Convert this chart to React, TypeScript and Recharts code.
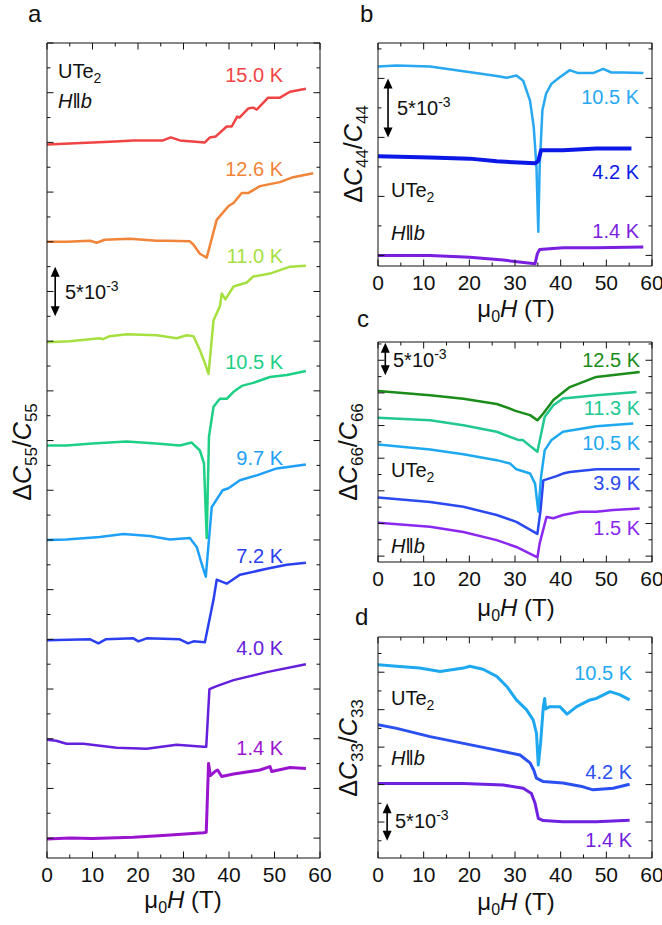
import React from 'react';
import { LineChart, Line, XAxis, YAxis, ReferenceLine } from 'recharts';

const FONT = '"Liberation Sans", Arial, Helvetica, sans-serif';

// field values (T) and relative change in units of 1e-3, curves offset for clarity
// panel a: dC55/C55
const a150 = [[0, 69.8], [5, 69.9], [10, 70.0], [15, 70.1], [19, 70.2], [25.5, 70.2], [27.2, 70.5], [29.2, 70.2], [34.7, 70.0], [35.8, 70.5], [37.1, 70.6], [39.5, 71.6], [40.6, 71.6], [41.8, 72.6], [42.3, 72.5], [44.2, 73.4], [45.3, 73.5], [46.1, 73.3], [48.6, 74.5], [51.2, 74.5], [53.4, 75.1], [56.9, 75.4]];
const a126 = [[0, 60], [4.3, 60], [9.5, 60.1], [10.9, 59.9], [12.7, 60.2], [18.2, 60.3], [21.2, 60.2], [24.1, 60.1], [26.3, 60.1], [31.4, 60.05], [32.2, 59.7], [33.6, 58.8], [35.1, 58.4], [37.3, 62.2], [39.9, 63.6], [41, 63.9], [42.8, 64.9], [44.2, 64.9], [46.8, 65.6], [51.2, 66], [54.1, 66.5], [58.5, 66.9]];
const a110 = [[0, 49.9], [5, 50], [11.6, 50.3], [12.3, 50.2], [13.8, 50.5], [17.5, 50.7], [24.1, 50.6], [28.5, 50.3], [30.7, 50.6], [32.2, 50.5], [33.6, 49.1], [34.7, 47.8], [35.5, 46.7], [36.6, 52.1], [38, 53.5], [38.4, 54.8], [39.2, 54.2], [41, 55.5], [43.9, 55.9], [45.3, 56.5], [49, 56.8], [53.4, 57.5], [56.9, 57.6]];
const a105 = [[0, 39.5], [4.3, 39.5], [10, 39.7], [17.5, 39.9], [24, 39.7], [29.2, 39.5], [31.8, 39.8], [33.6, 39], [34.5, 37.7], [35.1, 30.2], [35.6, 40.4], [36.6, 43.4], [38, 44.2], [39.5, 44.2], [41, 44.9], [42.8, 45.5], [45.3, 45.8], [49, 46.4], [52.7, 46.6], [56.9, 47]];
const a97 = [[0, 30], [4.3, 30.05], [11.6, 30.3], [16.8, 30.6], [22.6, 30.4], [27, 30.05], [31.4, 30.2], [32.9, 29.3], [34, 27.6], [34.9, 26.3], [36.2, 33.3], [38.6, 35], [39.9, 35.2], [42.4, 36], [46.1, 36.5], [50.5, 37.2], [56.9, 37.6]];
const a72 = [[0, 19.9], [9.5, 20], [11.3, 19.6], [12.9, 20], [19, 20.1], [20.1, 19.8], [21.9, 20.1], [29.2, 20], [31, 19.6], [32.2, 19.8], [34.7, 19.7], [36.6, 24], [37.3, 26], [39.5, 25.6], [42.4, 26.5], [48.3, 27.1], [52.7, 27.5], [56.9, 27.7]];
const a40 = [[0, 9.9], [2, 9.8], [4.3, 9.5], [8, 9.5], [15.3, 9.1], [21.9, 9.0], [28.5, 9.4], [34.4, 9.2], [35, 9.2], [35.7, 15], [37.3, 15.3], [41, 15.9], [48.3, 16.7], [56.9, 17.5]];
const a14 = [[0, -0.1], [5, 0], [10, -0.05], [19, 0.1], [26.3, 0.3], [34.4, 0.55], [35, 0.6], [35.5, 7.5], [35.9, 6.3], [36.9, 6.7], [37.5, 6.85], [38.4, 6.2], [41, 6.45], [46.8, 6.85], [49, 7.2], [49.4, 6.7], [53.4, 7.1], [56.9, 7.0]];

// panel b: dC44/C44
const b105 = [[0, 16], [4.1, 16.1], [11.4, 16], [18.7, 15.6], [26, 15.2], [28.2, 15.05], [30.3, 15.25], [31.8, 14.8], [33.3, 13.1], [34.1, 10.9], [34.7, 7.5], [35.1, 2.0], [35.4, 7.5], [36, 12.3], [36.8, 13.7], [38, 14.55], [39.8, 15.1], [42, 15.7], [43.8, 15.45], [47.1, 15.45], [49.3, 15.8], [51.1, 15.5], [53.7, 15.5], [58.1, 15.45]];
const b42 = [[0, 8.4], [11.4, 8.3], [20.1, 8.2], [26, 7.97], [34.4, 7.8], [35.1, 8.0], [35.7, 8.9], [40.5, 8.9], [47.8, 9.05], [55.5, 9.05]];
const b14 = [[0, 0], [11.4, 0], [20.1, -0.15], [27.4, -0.4], [34.4, -0.7], [34.9, 0.15], [35.4, 0.5], [40.5, 0.65], [47.8, 0.65], [58.1, 0.7]];

// panel c: dC66/C66
const c125 = [[0, 25.3], [11.4, 24.65], [18.7, 24.1], [26, 23.3], [28.9, 22.6], [30.1, 22.25], [33.3, 21.6], [34.9, 20.8], [36.2, 21.85], [38.4, 23.9], [42, 25.9], [47.8, 27.45], [57.3, 28.2]];
const c113 = [[0, 21.2], [11.4, 20.8], [18.7, 20.05], [26, 19.05], [30.7, 17.8], [31.7, 17.8], [33.6, 16.7], [34.9, 16], [36.5, 21.3], [38.4, 23.1], [40.5, 24.15], [47.8, 24.65], [56.6, 25.15]];
const c105 = [[0, 17.1], [11.4, 16.35], [18.7, 15.6], [26, 14.7], [28.9, 14.2], [30.3, 13.3], [33.3, 12.65], [34.4, 11.1], [35.1, 6.8], [35.7, 12.1], [36.5, 16.2], [38, 17.8], [40.5, 19.05], [47.8, 19.9], [55.9, 20.3]];
const c39 = [[0, 9], [11.4, 8.3], [18.7, 7.55], [26, 6.3], [30.3, 5.25], [34.9, 3.4], [35.6, 7.05], [36.2, 11.6], [39.1, 12.25], [40.5, 12.65], [42, 12.9], [47.8, 13.3], [57.3, 13.3]];
const c15 = [[0, 5.1], [11.4, 4.5], [18.7, 3.7], [26, 2.45], [30.3, 1.4], [34.9, -0.2], [35.4, 1.95], [36.9, 6], [38.4, 5.8], [40.5, 6.3], [44.2, 6.8], [47.8, 6.8], [51.5, 7.05], [57.3, 7.3]];

// panel d: dC33/C33
const d105 = [[0, 21], [4.1, 20.8], [9.1, 20.55], [13.6, 20.1], [18.7, 20.55], [20.1, 20.8], [23, 20.4], [26, 19.45], [28.2, 18.1], [30.3, 16.3], [32.5, 15], [34, 13.6], [34.7, 11.85], [35.1, 7.6], [35.6, 10.5], [36.2, 15.4], [36.5, 16.5], [36.7, 15.1], [37.6, 15.4], [39.8, 15.4], [41.4, 14.4], [43.5, 15.4], [46.4, 16.3], [47.8, 16.5], [50.8, 17.4], [52.9, 17], [55.1, 16.3]];
const d42 = [[0, 13], [4.1, 12.5], [11.4, 11.4], [18.7, 10.5], [26, 9.6], [31.1, 8.95], [33.3, 7.9], [34.1, 6.95], [34.7, 5.85], [36.2, 5.4], [40.5, 5.2], [44.9, 4.7], [47.1, 4.3], [51.5, 4.5], [55.1, 5.05]];
const d14 = [[0, 5.15], [10, 5.15], [18.7, 5.15], [27.4, 4.95], [31.8, 4.5], [33.6, 3.8], [34.4, 2.5], [35.1, 0.5], [36.2, 0.2], [40.5, 0.05], [47.8, 0.05], [55.1, 0.25]];

const xTicks = [0, 5, 10, 15, 20, 25, 30, 35, 40, 45, 50, 55, 60];
const range = (a: number, b: number) => {
  const out: number[] = [];
  for (let v = a; v <= b + 1e-9; v += 2.5) out.push(v);
  return out;
};

const pts = (arr: number[][]) => arr.map(([h, v]) => ({ h, v }));

const isMajor = (v: number, step: number) => Math.abs(v / step - Math.round(v / step)) < 1e-6;

const yTick = (side: 'left' | 'right') => (p: any) => {
  const len = isMajor(p.payload.value, 5) ? 6.5 : 3.5;
  const dx = side === 'left' ? len : -len;
  return <line x1={p.x} y1={p.y} x2={p.x + dx} y2={p.y} stroke="#111" strokeWidth={1} />;
};

const xTickTop = (p: any) => {
  const len = isMajor(p.payload.value, 10) ? 6.5 : 3.5;
  return <line x1={p.x} y1={p.y} x2={p.x} y2={p.y + len} stroke="#111" strokeWidth={1} />;
};

const xTickBottom = (p: any) => {
  const major = isMajor(p.payload.value, 10);
  return (
    <g>
      <line x1={p.x} y1={p.y} x2={p.x} y2={p.y - (major ? 6.5 : 3.5)} stroke="#111" strokeWidth={1} />
      {major && (
        <text x={p.x} y={p.y + 24} textAnchor="middle" fontSize={21} fill="#111" fontFamily={FONT}>
          {p.payload.value}
        </text>
      )}
    </g>
  );
};

// double headed arrow for the 5*10^-3 scale bar
const ScaleArrow = (p: any) => {
  const x = p.x1;
  const top = Math.min(p.y1, p.y2);
  const bot = Math.max(p.y1, p.y2);
  return (
    <g>
      <line x1={x} y1={top + 6} x2={x} y2={bot - 6} stroke="#000" strokeWidth={1.6} />
      <polygon points={`${x},${top} ${x - 4.5},${top + 10} ${x + 4.5},${top + 10}`} fill="#000" />
      <polygon points={`${x},${bot} ${x - 4.5},${bot - 10} ${x + 4.5},${bot - 10}`} fill="#000" />
    </g>
  );
};

type Curve = { data: number[][]; color: string; w?: number };

interface PanelProps {
  left: number;
  top: number;
  width: number;
  height: number;
  margin: { top: number; right: number; bottom: number; left: number };
  yDomain: [number, number];
  yTicks: number[];
  curves: Curve[];
  arrow: [number, number, number];
}

const Panel = ({ left, top, width, height, margin, yDomain, yTicks, curves, arrow }: PanelProps) => (
  <div style={{ position: 'absolute', left, top, width, height }}>
    <LineChart width={width} height={height} margin={margin}>
      <XAxis
        xAxisId="b"
        dataKey="h"
        type="number"
        domain={[0, 60]}
        ticks={xTicks}
        interval={0}
        allowDataOverflow
        height={1}
        tickSize={0}
        tickMargin={0}
        tickLine={false}
        tick={xTickBottom}
        axisLine={{ stroke: '#111', strokeWidth: 1 }}
      />
      <XAxis
        xAxisId="t"
        orientation="top"
        dataKey="h"
        type="number"
        domain={[0, 60]}
        ticks={xTicks}
        interval={0}
        allowDataOverflow
        height={1}
        tickSize={0}
        tickMargin={0}
        tickLine={false}
        tick={xTickTop}
        axisLine={{ stroke: '#111', strokeWidth: 1 }}
      />
      <YAxis
        yAxisId="l"
        type="number"
        domain={yDomain}
        ticks={yTicks}
        interval={0}
        allowDataOverflow
        width={1}
        tickSize={0}
        tickMargin={0}
        tickLine={false}
        tick={yTick('left')}
        axisLine={{ stroke: '#111', strokeWidth: 1 }}
      />
      <YAxis
        yAxisId="r"
        orientation="right"
        type="number"
        domain={yDomain}
        ticks={yTicks}
        interval={0}
        allowDataOverflow
        width={1}
        tickSize={0}
        tickMargin={0}
        tickLine={false}
        tick={yTick('right')}
        axisLine={{ stroke: '#111', strokeWidth: 1 }}
      />
      {curves.map((c, i) => (
        <Line
          key={i}
          xAxisId="b"
          yAxisId="l"
          data={pts(c.data)}
          dataKey="v"
          type="linear"
          stroke={c.color}
          strokeWidth={c.w ?? 2.5}
          strokeLinejoin="round"
          dot={false}
          activeDot={false}
          isAnimationActive={false}
        />
      ))}
      <ReferenceLine
        xAxisId="b"
        yAxisId="l"
        segment={[{ x: arrow[0], y: arrow[1] }, { x: arrow[0], y: arrow[2] }]}
        shape={ScaleArrow}
      />
    </LineChart>
  </div>
);

const Temp = ({ x, y, c, t }: { x: number; y: number; c: string; t: string }) => (
  <text x={x} y={y} fill={c} fontSize={20} textAnchor="end" fontFamily={FONT}>{t}</text>
);

const Ute = ({ x, y }: { x: number; y: number }) => (
  <text x={x} y={y} fontSize={20} fill="#111" fontFamily={FONT}>
    UTe<tspan fontSize={14} dy={5}>2</tspan>
  </text>
);

const Hb = ({ x, y }: { x: number; y: number }) => (
  <text x={x} y={y} fontSize={20} fill="#111" fontFamily={FONT}>
    <tspan fontStyle="italic">H</tspan>
    <tspan>‖</tspan>
    <tspan fontStyle="italic">b</tspan>
  </text>
);

const Scale = ({ x, y }: { x: number; y: number }) => (
  <text x={x} y={y} fontSize={20} fill="#111" fontFamily={FONT}>
    5*10<tspan fontSize={14} dy={-8}>-3</tspan>
  </text>
);

const XTitle = ({ x, y }: { x: number; y: number }) => (
  <text x={x} y={y} fontSize={24} fill="#111" textAnchor="middle" fontFamily={FONT}>
    μ<tspan fontSize={16} dy={5}>0</tspan>
    <tspan dy={-5} fontStyle="italic">H</tspan> (T)
  </text>
);

const YTitle = ({ x, y, n }: { x: number; y: number; n: string }) => (
  <text transform={`translate(${x},${y}) rotate(-90)`} fontSize={25} fill="#111" textAnchor="middle" fontFamily={FONT}>
    Δ<tspan fontStyle="italic">C</tspan>
    <tspan fontSize={17} dy={6}>{n}</tspan>
    <tspan dy={-6}>/</tspan>
    <tspan fontStyle="italic">C</tspan>
    <tspan fontSize={17} dy={6}>{n}</tspan>
  </text>
);

const Letter = ({ x, y, t }: { x: number; y: number; t: string }) => (
  <text x={x} y={y} fontSize={24} fill="#111" fontFamily={FONT}>{t}</text>
);

export default function App() {
  return (
    <div style={{ position: 'absolute', left: 0, top: 0, width: 662, height: 925, background: '#fff', overflow: 'hidden' }}>
      <style>{'.recharts-surface { overflow: visible; }'}</style>
      <Panel
        left={0}
        top={0}
        width={330}
        height={925}
        margin={{ top: 42, right: 9, bottom: 66, left: 46 }}
        yDomain={[-2, 80]}
        yTicks={range(0, 80)}
        arrow={[1.8, 52.5, 57.5]}
        curves={[
          { data: a150, color: '#f04444' },
          { data: a126, color: '#f08438' },
          { data: a110, color: '#a6e040' },
          { data: a105, color: '#1ecf86' },
          { data: a97, color: '#1ea0f8' },
          { data: a72, color: '#2a40f0' },
          { data: a40, color: '#6420dc' },
          { data: a14, color: '#9a14d0', w: 3 },
        ]}
      />
      <Panel
        left={330}
        top={0}
        width={332}
        height={310}
        margin={{ top: 42, right: 9, bottom: 43, left: 47 }}
        yDomain={[-0.9, 18]}
        yTicks={range(0, 17.5)}
        arrow={[2.2, 10, 15]}
        curves={[
          { data: b105, color: '#27a8f0', w: 2.5 },
          { data: b42, color: '#0c18e6', w: 4 },
          { data: b14, color: '#7a1ee0', w: 3 },
        ]}
      />
      <Panel
        left={330}
        top={310}
        width={332}
        height={300}
        margin={{ top: 31, right: 9, bottom: 47, left: 47 }}
        yDomain={[-0.9, 32.8]}
        yTicks={range(0, 32.5)}
        arrow={[1.6, 27.7, 32.7]}
        curves={[
          { data: c125, color: '#1a8c1a' },
          { data: c113, color: '#22c890' },
          { data: c105, color: '#1ea8f0' },
          { data: c39, color: '#2a4af0' },
          { data: c15, color: '#8a28f0' },
        ]}
      />
      <Panel
        left={330}
        top={610}
        width={332}
        height={315}
        margin={{ top: 26, right: 9, bottom: 66, left: 47 }}
        yDomain={[-4.8, 24.7]}
        yTicks={range(-2.5, 22.5)}
        arrow={[2.0, -2.5, 2.5]}
        curves={[
          { data: d105, color: '#1ea8f0', w: 3 },
          { data: d42, color: '#2a50f0', w: 3 },
          { data: d14, color: '#7020e0', w: 3 },
        ]}
      />
      <svg width={662} height={925} style={{ position: 'absolute', left: 0, top: 0, pointerEvents: 'none' }}>
        <Letter x={28} y={22} t="a" />
        <Letter x={360} y={22} t="b" />
        <Letter x={357} y={327} t="c" />
        <Letter x={355} y={625} t="d" />

        <Ute x={58} y={78} />
        <Hb x={58} y={108} />
        <Scale x={65} y={299} />
        <Temp x={283} y={82} c="#f04444" t="15.0 K" />
        <Temp x={283} y={176} c="#f08438" t="12.6 K" />
        <Temp x={283} y={263} c="#a6e040" t="11.0 K" />
        <Temp x={283} y={369} c="#1ecf86" t="10.5 K" />
        <Temp x={283} y={465} c="#1ea0f8" t="9.7 K" />
        <Temp x={283} y={563} c="#2a40f0" t="7.2 K" />
        <Temp x={283} y={655} c="#6420dc" t="4.0 K" />
        <Temp x={283} y={755} c="#9a14d0" t="1.4 K" />
        <XTitle x={183} y={908} />
        <YTitle x={31} y={452} n="55" />

        <Ute x={391} y={197} />
        <Hb x={391} y={240} />
        <Scale x={397} y={115} />
        <Temp x={639} y={104} c="#27a8f0" t="10.5 K" />
        <Temp x={639} y={179} c="#0c18e6" t="4.2 K" />
        <Temp x={639} y={238} c="#7a1ee0" t="1.4 K" />
        <XTitle x={516} y={317} />
        <YTitle x={362} y={154} n="44" />

        <Ute x={391} y={477} />
        <Hb x={391} y={553} />
        <Scale x={393} y={367} />
        <Temp x={640} y={367} c="#1a8c1a" t="12.5 K" />
        <Temp x={640} y={415} c="#22c890" t="11.3 K" />
        <Temp x={640} y={450} c="#1ea8f0" t="10.5 K" />
        <Temp x={640} y={490} c="#2a4af0" t="3.9 K" />
        <Temp x={640} y={535} c="#8a28f0" t="1.5 K" />
        <XTitle x={516} y={616} />
        <YTitle x={357} y={452} n="66" />

        <Ute x={391} y={705} />
        <Hb x={391} y={765} />
        <Scale x={395} y={828} />
        <Temp x={632} y={680} c="#1ea8f0" t="10.5 K" />
        <Temp x={632} y={779} c="#2a50f0" t="4.2 K" />
        <Temp x={632} y={847} c="#7020e0" t="1.4 K" />
        <XTitle x={516} y={910} />
        <YTitle x={357} y={748} n="33" />
      </svg>
    </div>
  );
}
